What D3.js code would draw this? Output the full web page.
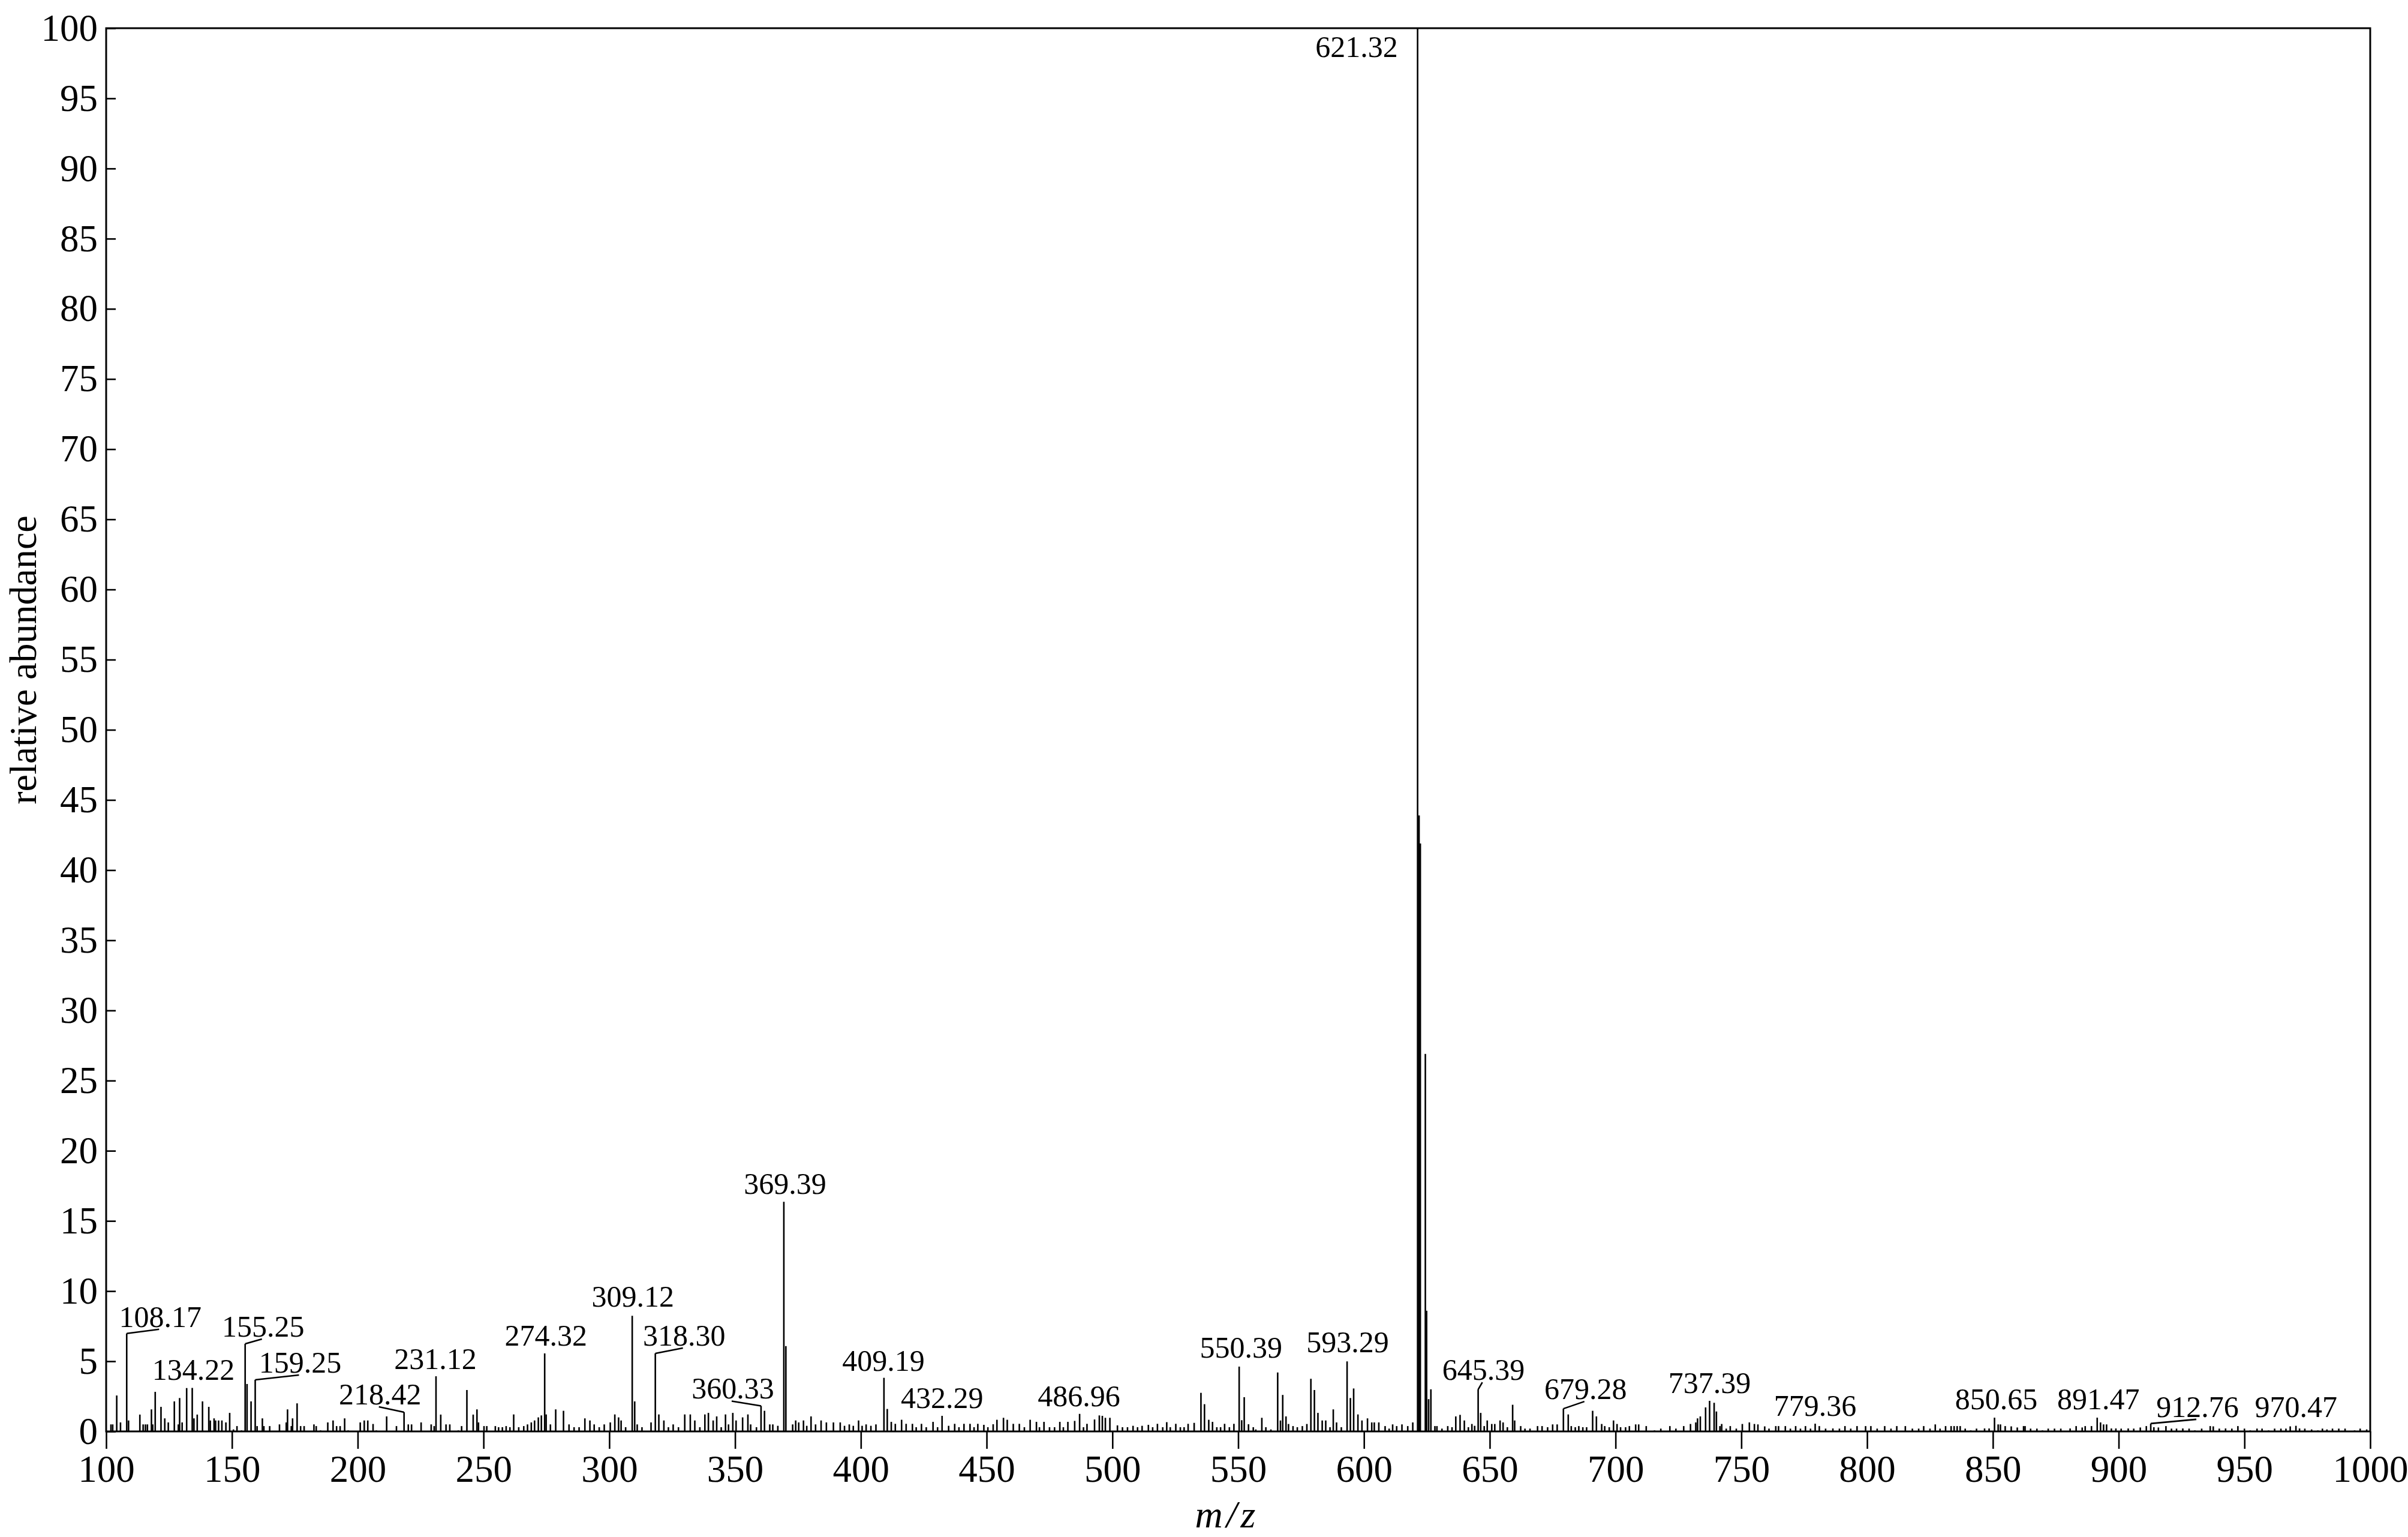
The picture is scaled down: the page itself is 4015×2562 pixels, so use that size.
<!DOCTYPE html>
<html><head><meta charset="utf-8">
<script src="https://cdn.jsdelivr.net/npm/d3@7"></script>
<style>html,body{margin:0;padding:0;background:#fff;} svg{display:block;}</style>
</head><body><div id="chart"></div>
<script>
// ---- data ----
const peakMz = [
101.9,102.6,104.2,105.7,108.17,108.9,113.4,114.7,115.6,116.4,118.0,118.5,119.5,121.8,123.3,124.7,127.1,128.7,129.2,130.2,
132.0,134.22,134.9,136.2,138.3,140.8,141.4,142.9,143.5,144.7,146.0,147.6,149.1,150.6,152.0,153.8,155.25,156.0,157.6,159.25,
160.0,162.1,162.7,165.0,168.9,171.6,172.1,173.6,174.1,175.9,177.3,178.7,182.6,183.5,185.2,188.1,190.2,191.6,193.0,194.8,
196.2,201.0,202.6,204.0,206.1,207.4,211.5,215.4,218.42,220.1,221.4,225.2,229.2,230.4,231.12,233.0,235.1,236.6,240.0,241.3,
243.4,245.9,247.4,248.0,250.2,251.3,254.7,256.0,257.5,259.0,260.5,262.0,264.0,266.0,267.5,269.0,270.3,271.8,273.0,274.32,
274.9,276.6,278.7,281.8,284.0,286.0,288.0,290.3,292.3,294.0,296.0,298.0,300.4,302.2,303.7,304.7,306.5,309.12,310.1,311.1,
313.0,316.6,318.30,319.7,321.7,323.5,325.4,327.5,330.0,332.2,334.0,336.0,338.0,339.4,341.3,342.7,344.5,346.2,347.4,349.1,
350.4,353.0,355.1,356.2,358.5,360.33,361.7,363.8,365.0,367.0,369.39,370.2,372.9,374.1,375.3,377.2,378.5,380.2,382.0,384.2,
386.3,389.1,391.8,393.5,395.4,397.0,399.1,400.5,402.1,404.0,406.0,409.19,410.5,412.1,413.7,416.2,418.0,420.5,422.0,424.1,
426.0,428.7,430.5,432.29,434.9,437.3,439.0,441.0,443.4,445.0,446.5,448.9,450.5,452.6,454.1,456.7,458.2,460.6,463.0,465.0,
467.3,469.8,471.0,472.8,475.0,477.0,479.1,480.5,482.3,485.0,486.96,488.5,489.9,492.9,494.8,496.0,497.2,499.0,502.0,504.0,
506.0,508.2,510.0,511.8,514.3,516.0,517.9,520.0,521.6,523.0,525.2,527.0,528.5,530.1,532.5,535.2,536.6,538.3,539.8,541.5,
543.0,544.6,546.5,548.3,550.39,551.4,552.4,554.1,556.0,557.0,559.4,561.0,563.0,565.7,566.8,567.7,569.0,570.0,571.8,573.5,
575.5,577.3,578.9,580.3,581.7,583.4,584.8,586.5,587.8,589.1,591.0,593.29,594.6,595.9,597.6,599.2,601.4,603.1,604.1,605.9,
608.4,610.0,611.4,613.0,615.1,617.4,619.4,621.32,621.9,622.4,624.4,624.9,625.7,626.6,628.2,629.0,631.0,633.3,635.0,636.5,
638.2,639.9,641.5,642.9,644.0,645.39,646.4,647.8,649.0,650.8,652.0,654.1,655.3,657.0,659.1,659.9,662.3,664.0,666.0,669.0,
670.8,673.0,675.0,676.8,679.28,681.2,682.4,684.0,685.4,687.0,688.5,690.9,692.4,694.5,695.7,697.5,699.2,700.6,702.0,704.0,
705.5,708.0,709.2,712.2,715.5,718.0,721.6,724.0,727.1,729.8,731.9,732.6,733.7,735.8,737.39,739.2,740.1,741.5,742.2,744.0,
745.6,748.0,750.4,753.2,755.2,756.6,759.3,761.0,763.7,764.8,767.5,769.5,771.6,773.5,775.5,777.5,779.36,781.0,783.5,786.4,
789.0,791.2,793.5,796.0,799.4,801.5,804.0,807.0,809.5,811.8,815.2,818.0,820.5,822.5,825.0,827.1,829.0,831.2,833.4,834.6,
835.8,837.0,839.0,841.2,843.5,846.7,848.5,850.65,852.1,853.0,854.9,857.3,859.7,862.2,862.8,865.0,867.5,869.7,872.0,874.5,
877.0,880.7,883.1,885.5,886.7,889.2,891.47,892.8,894.0,895.2,897.1,898.9,901.0,903.8,906.0,908.6,911.0,912.76,914.0,915.8,
918.8,921.0,923.0,925.5,928.0,930.3,933.0,936.4,937.6,940.0,942.5,945.0,947.4,950.0,952.3,955.0,957.0,959.6,962.0,964.5,
966.5,968.2,970.47,971.9,974.0,976.7,979.2,981.0,982.8,985.0,987.5,990.0,993.8,996.0,998.6
];
const peakIntensity = [
0.5,0.5,2.56,0.64,6.98,0.78,1.2,0.5,0.5,0.5,1.57,0.5,2.82,1.75,0.93,0.64,2.14,0.5,2.38,0.64,
3.09,3.1,0.93,1.2,2.14,1.75,0.78,0.93,0.78,0.78,0.78,0.64,1.32,0.14,0.38,0.07,6.24,3.38,2.14,3.68,
0.38,0.93,0.38,0.38,0.5,0.64,1.57,0.38,0.93,2.0,0.38,0.38,0.5,0.38,0.07,0.64,0.78,0.38,0.38,0.93,
0.07,0.64,0.78,0.78,0.53,0.07,1.07,0.38,1.37,0.5,0.5,0.64,0.5,0.38,3.93,1.2,0.5,0.5,0.07,0.38,
2.95,1.2,1.57,0.64,0.38,0.38,0.38,0.3,0.3,0.38,0.3,1.21,0.3,0.38,0.5,0.64,0.78,1.0,1.14,5.56,
1.21,0.5,1.57,1.47,0.5,0.3,0.3,0.93,0.78,0.5,0.3,0.5,0.64,1.21,1.0,0.78,0.3,8.24,2.14,0.5,
0.3,0.64,5.56,1.21,0.78,0.3,0.5,0.3,1.21,1.21,0.78,0.3,1.21,1.32,0.78,1.07,0.3,1.21,0.5,1.32,
0.78,1.0,1.21,0.5,0.3,1.82,1.47,0.5,0.5,0.4,16.36,6.08,0.5,0.78,0.64,0.78,0.4,1.07,0.5,0.78,
0.64,0.64,0.64,0.4,0.5,0.4,0.78,0.4,0.5,0.4,0.5,3.82,1.6,0.68,0.54,0.83,0.54,0.54,0.3,0.54,
0.3,0.68,0.3,1.11,0.4,0.54,0.3,0.54,0.54,0.3,0.54,0.47,0.3,0.51,0.83,0.97,0.83,0.54,0.54,0.3,
0.83,0.68,0.3,0.68,0.3,0.3,0.68,0.3,0.68,0.75,1.25,0.3,0.54,0.85,1.14,1.11,0.97,0.97,0.43,0.3,
0.3,0.4,0.3,0.4,0.47,0.3,0.54,0.3,0.66,0.3,0.54,0.3,0.3,0.54,0.61,2.75,1.94,0.83,0.68,0.3,
0.3,0.54,0.3,0.54,4.62,0.8,2.44,0.51,0.3,0.14,0.97,0.3,0.14,4.2,0.78,2.6,1.07,0.53,0.38,0.3,
0.38,0.53,3.75,2.95,1.32,0.78,0.78,0.3,1.57,0.64,0.3,4.99,2.38,3.06,1.21,0.78,0.93,0.64,0.64,0.64,
0.38,0.2,0.5,0.38,0.5,0.38,0.64,100,43.9,41.9,26.9,8.6,2.3,3.0,0.38,0.38,0.2,0.38,0.3,1.07,
1.18,0.78,0.3,0.53,0.4,2.99,1.32,0.38,0.78,0.53,0.53,0.78,0.64,0.3,1.9,0.78,0.38,0.2,0.2,0.38,
0.38,0.3,0.5,0.5,1.62,1.21,0.38,0.3,0.38,0.3,0.3,1.47,1.07,0.53,0.38,0.3,0.78,0.53,0.3,0.3,
0.38,0.5,0.5,0.38,0.07,0.2,0.38,0.2,0.38,0.53,0.64,0.93,1.07,1.71,2.18,2.04,1.42,0.38,0.53,0.2,
0.38,0.2,0.53,0.64,0.53,0.5,0.36,0.2,0.38,0.38,0.38,0.2,0.38,0.2,0.38,0.2,0.55,0.38,0.2,0.21,
0.2,0.38,0.2,0.38,0.38,0.38,0.2,0.38,0.2,0.38,0.38,0.2,0.2,0.38,0.2,0.5,0.2,0.38,0.38,0.38,
0.38,0.38,0.2,0.07,0.2,0.21,0.21,0.98,0.5,0.5,0.38,0.36,0.28,0.38,0.38,0.2,0.2,0.07,0.2,0.2,
0.2,0.21,0.38,0.28,0.38,0.38,0.98,0.64,0.5,0.5,0.21,0.21,0.2,0.21,0.2,0.28,0.38,0.56,0.3,0.28,
0.38,0.2,0.2,0.21,0.2,0.07,0.2,0.38,0.36,0.2,0.21,0.2,0.38,0.2,0.07,0.2,0.2,0.07,0.2,0.2,
0.2,0.36,0.4,0.21,0.2,0.14,0.07,0.2,0.14,0.2,0.2,0.2,0.07,0.2,0.14
];
// annotated peaks (label text = m/z value)
const labelMz = [108.17,134.22,155.25,159.25,218.42,231.12,274.32,309.12,318.30,360.33,369.39,409.19,432.29,
                 486.96,550.39,593.29,621.32,645.39,679.28,737.39,779.36,850.65,891.47,912.76,970.47];
// label placement relative to peak top, in px: [dx, dy, leader line?, anchor]
const labelLayout = [
 [56,-11,1,"middle"],[2,-13,0,"middle"],[30,-12,1,"middle"],[75,-12,1,"middle"],[-40,-13,1,"middle"],
 [-1,-12,0,"middle"],[2,-13,0,"middle"],[1,-15,0,"middle"],[48,-13,1,"middle"],[-47,-12,1,"middle"],
 [2,-13,0,"middle"],[-1,-12,0,"middle"],[0,-13,0,"middle"],[-1,-13,0,"middle"],[3,-15,0,"middle"],
 [1,-15,0,"middle"],[-33,48,0,"end"],[9,-16,1,"middle"],[37,-16,1,"middle"],[0,-13,0,"middle"],
 [0,-13,0,"middle"],[3,-14,0,"middle"],[2,-14,0,"middle"],[78,-11,1,"middle"],[0,-15,0,"middle"]
];
const xTicks = d3.range(100, 1001, 50);
const yTicks = d3.range(0, 101, 5);
const xTitle = "m/z";
const yTitle = "relative abundance";

// ---- layout ----
const W = 4015, H = 2562;
const M = {left:177, right:W-3952, top:47, bottom:H-2386};
const FONT = "'Liberation Serif','Times New Roman',Times,serif";

const svg = d3.select("#chart").append("svg").attr("width", W).attr("height", H)
  .style("background", "#fff");

const x = d3.scaleLinear().domain([100, 1000]).range([M.left, W - M.right]);
const y = d3.scaleLinear().domain([0, 100]).range([H - M.bottom, M.top]);

// peaks
const peaks = peakMz.map((m, i) => ({mz: m, v: peakIntensity[i]}));
svg.append("g").selectAll("line").data(peaks).join("line")
  .attr("x1", d => x(d.mz)).attr("x2", d => x(d.mz))
  .attr("y1", y(0)).attr("y2", d => y(d.v))
  .attr("stroke", "#000").attr("stroke-width", 2.6);

// frame
svg.append("rect").attr("x", x(100)).attr("y", y(100))
  .attr("width", x(1000) - x(100)).attr("height", y(0) - y(100))
  .attr("fill", "none").attr("stroke", "#000").attr("stroke-width", 3);

// axes
const xAxis = svg.append("g").attr("transform", `translate(0,${y(0)})`)
  .call(d3.axisBottom(x).tickValues(xTicks).tickSize(29).tickPadding(10).tickFormat(d3.format("d")));
const yAxis = svg.append("g").attr("transform", `translate(${x(100)},0)`)
  .call(d3.axisLeft(y).tickValues(yTicks).tickSize(-16).tickPadding(14).tickFormat(d3.format("d")));
[xAxis, yAxis].forEach(g => {
  g.select(".domain").remove();
  g.selectAll(".tick line").attr("stroke", "#000").attr("stroke-width", 2.6);
  g.selectAll(".tick text").attr("fill", "#000").style("font-family", FONT).style("font-size", "63px");
});

// axis titles
svg.append("text").attr("transform", `translate(60,1100) rotate(-90)`)
  .attr("text-anchor", "middle").style("font-family", FONT).style("font-size", "64px")
  .text(yTitle);
svg.append("text").attr("x", 2046).attr("y", 2546).attr("text-anchor", "middle")
  .style("font-family", FONT).style("font-size", "64px").style("font-style", "italic")
  .style("letter-spacing", "6px")
  .text(xTitle);

// annotations
const valueOf = m => peakIntensity[peakMz.indexOf(m)];
const ann = svg.append("g");
labelMz.forEach((m, i) => {
  const [dx, dy, leader, anchor] = labelLayout[i];
  const px = x(m), py = y(valueOf(m));
  const tx = px + dx, ty = py + dy;
  ann.append("text").attr("x", tx).attr("y", ty).attr("text-anchor", anchor)
    .style("font-family", FONT).style("font-size", "50px").text(m.toFixed(2));
  if (leader) {
    ann.append("line").attr("x1", px).attr("y1", py).attr("x2", tx - 2).attr("y2", ty + 4)
      .attr("stroke", "#000").attr("stroke-width", 2.6);
  }
});
</script>
</body></html>
